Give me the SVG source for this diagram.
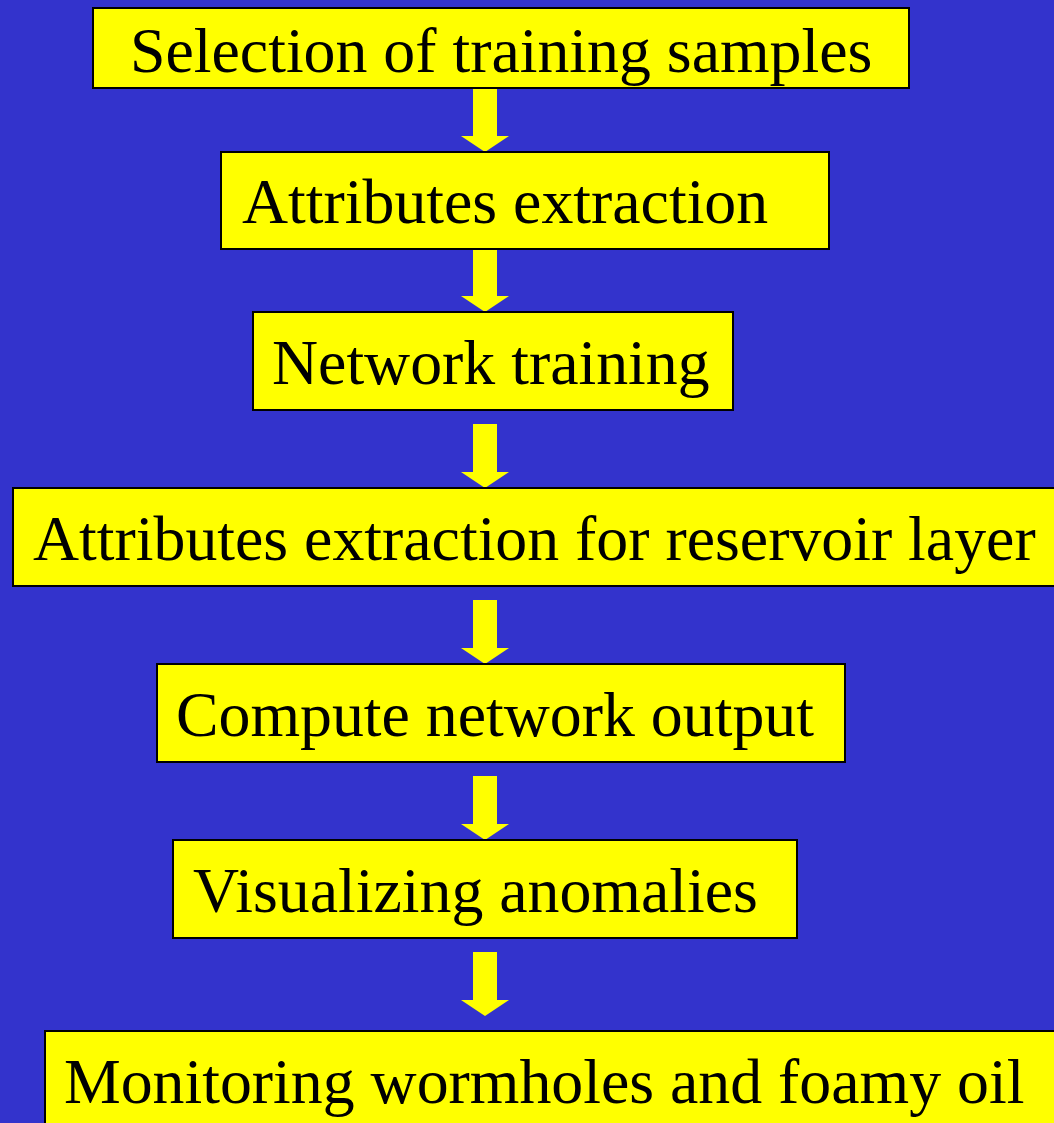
<svg xmlns="http://www.w3.org/2000/svg" width="1054" height="1123" viewBox="0 0 1054 1123">
<style>
.box{fill:#FFFF00;stroke:#000000;stroke-width:2}
.lbl{font-family:"Liberation Serif","Times New Roman",serif;font-size:63.8px;fill:#000000}
.arr{fill:#FFFF00;stroke:none}
</style>
<defs>
<path id="ar" class="arr" d="M-12,0 H12 V48 H24 L0,64 L-24,48 H-12 Z"/>
</defs>
<rect x="0" y="0" width="1054" height="1123" fill="#3333CC"/>
<g id="connectors">
<use href="#ar" x="485" y="88"/>
<use href="#ar" x="485" y="248"/>
<use href="#ar" x="485" y="424"/>
<use href="#ar" x="485" y="600"/>
<use href="#ar" x="485" y="776"/>
<use href="#ar" x="485" y="952"/>
</g>
<g id="n1"><rect class="box" x="93" y="8" width="816" height="80"/><text class="lbl" x="130" y="72">Selection of training samples</text></g>
<g id="n2"><rect class="box" x="221" y="152" width="608" height="97"/><text class="lbl" x="242" y="223">Attributes extraction</text></g>
<g id="n3"><rect class="box" x="253" y="312" width="480" height="98"/><text class="lbl" x="272" y="384">Network training</text></g>
<g id="n4"><rect class="box" x="13" y="488" width="1060" height="98"/><text class="lbl" x="33" y="560">Attributes extraction for reservoir layer</text></g>
<g id="n5"><rect class="box" x="157" y="664" width="688" height="98"/><text class="lbl" x="176" y="736">Compute network output</text></g>
<g id="n6"><rect class="box" x="173" y="840" width="624" height="98"/><text class="lbl" x="193" y="912">Visualizing anomalies</text></g>
<g id="n7"><rect class="box" x="45" y="1031" width="1030" height="110"/><text class="lbl" x="64" y="1103">Monitoring wormholes and foamy oil</text></g>
</svg>
